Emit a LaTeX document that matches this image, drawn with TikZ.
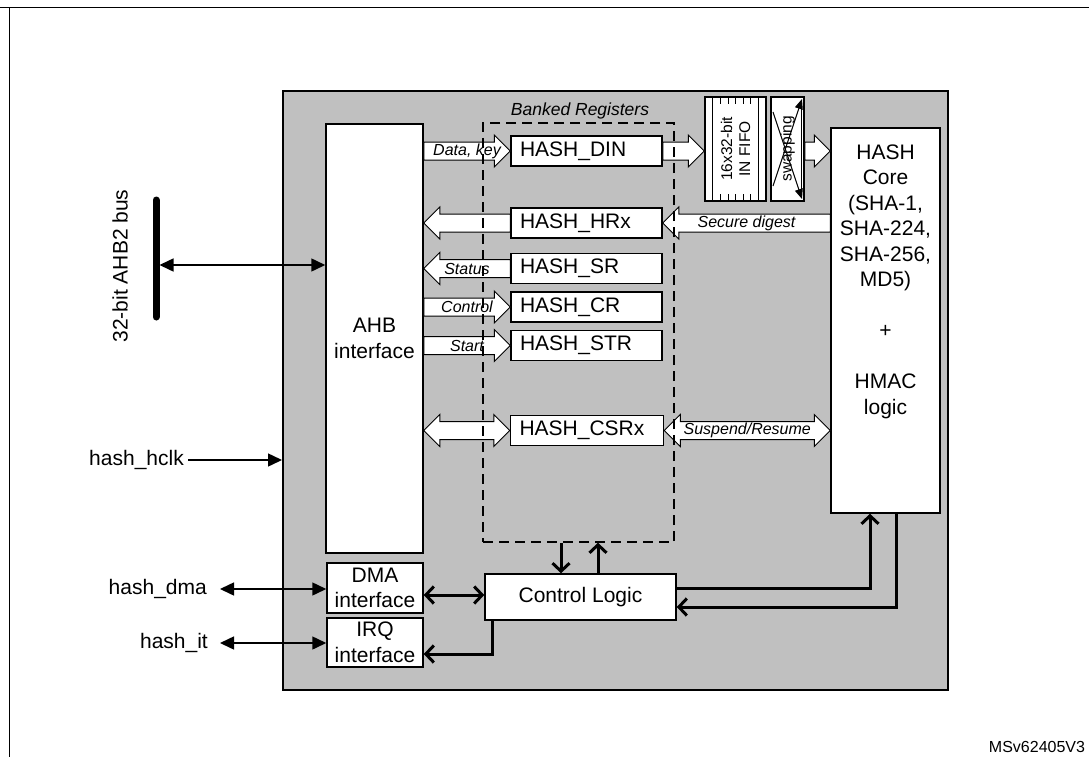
\documentclass[tikz,border=0pt]{standalone}
\usepackage{fontspec}
\setmainfont{Liberation Sans}
\usetikzlibrary{arrows.meta,calc}
\definecolor{hashgray}{RGB}{192,192,192}
\newcommand{\blkfont}{\fontsize{21}{25.5}\selectfont}
\newcommand{\lblfont}{\fontsize{16}{18}\selectfont\itshape}
\newcommand{\fifofont}{\fontsize{15.5}{18}\selectfont}
\tikzset{
  cbarb/.tip={Straight Barb[length=8pt,width=17pt]},
  ctri/.tip={Triangle[length=14pt,width=13pt]},
  blk/.style={draw,fill=white,line width=1.5pt,inner sep=0pt,align=center,font=\blkfont},
  reg/.style={blk,minimum height=30pt,text width=133pt,inner xsep=9pt,align=left},
  lbl/.style={font=\lblfont,inner sep=0pt},
  sig/.style={font=\blkfont,inner sep=0pt,anchor=east},
  thn/.style={line width=1.5pt},
  thk/.style={line width=3pt},
  fatr/.style={draw,fill=white,line width=1pt,
    to path={let \p1=(\tikztostart),\p2=(\tikztotarget),\n1={sign(\x2-\x1)} in
      (\x1,\y1+9pt) -- ({\x2-(\n1)*16pt},\y1+9pt) -- ({\x2-(\n1)*16pt},\y1+16pt) -- (\x2,\y1)
      -- ({\x2-(\n1)*16pt},\y1-16pt) -- ({\x2-(\n1)*16pt},\y1-9pt) -- (\x1,\y1-9pt) -- cycle}},
  fatd/.style={draw,fill=white,line width=1pt,
    to path={let \p1=(\tikztostart),\p2=(\tikztotarget),\n1={sign(\x2-\x1)} in
      (\x1,\y1) -- ({\x1+(\n1)*16pt},\y1+16pt) -- ({\x1+(\n1)*16pt},\y1+9pt)
      -- ({\x2-(\n1)*16pt},\y1+9pt) -- ({\x2-(\n1)*16pt},\y1+16pt) -- (\x2,\y1)
      -- ({\x2-(\n1)*16pt},\y1-16pt) -- ({\x2-(\n1)*16pt},\y1-9pt)
      -- ({\x1+(\n1)*16pt},\y1-9pt) -- ({\x1+(\n1)*16pt},\y1-16pt) -- cycle}}
}
\begin{document}
\begin{tikzpicture}[x=1pt,y=-1pt]
  \useasboundingbox (0,0) rectangle (1089,757);
  \draw[thn] (0,7.5) -- (1089,7.5);
  \draw[thn] (9.5,7.5) -- (9.5,757);
  \node[draw,fill=hashgray,line width=2pt,minimum width=665pt,minimum height=599pt] (hashblk) at (615.5,390.5) {};
  \node[blk,minimum width=97pt,minimum height=429pt] (ahb) at (374.5,338.5) {AHB\\interface};
  \node[blk,minimum width=96pt,minimum height=50pt] (dma) at (375,588) {DMA\\interface};
  \node[blk,minimum width=96pt,minimum height=49pt] (irq) at (375,642.5) {IRQ\\interface};
  \node[reg] (din) at (586.5,151) {HASH\_DIN};
  \node[reg] (hrx) at (586.5,223) {HASH\_HRx};
  \node[reg] (sr) at (586.5,268.5) {HASH\_SR};
  \node[reg] (cr) at (586.5,307) {HASH\_CR};
  \node[reg] (str) at (586.5,345.5) {HASH\_STR};
  \node[reg,text width=135pt] (csrx) at (587,430.5) {HASH\_CSRx};
  \node[blk,minimum width=61pt,minimum height=104pt] (fifo) at (735.5,149) {};
  \draw[line width=1pt] ([xshift=8pt]fifo.north west) -- ([xshift=8pt]fifo.south west);
  \draw[line width=1pt] ([xshift=-8pt]fifo.north east) -- ([xshift=-8pt]fifo.south east);
  \foreach \dx in {-15,-7.5,0,7.5,15} {
    \draw[line width=1pt] ([xshift=\dx pt]fifo.north) -- ++(0,8);
    \draw[line width=1pt] ([xshift=\dx pt]fifo.south) -- ++(0,-8);
  }
  \node[rotate=90,align=center,font=\fifofont,inner sep=0pt] (fifotxt) at (fifo.center) {16x32-bit\\IN FIFO};
  \node[blk,minimum width=33pt,minimum height=104pt] (swap) at (787.5,149) {};
  \draw[line width=1pt] (801,103) -- (801,195);
  \draw[line width=1pt,-{Triangle[length=10pt,width=8pt]}] (773,112) -- (802,199);
  \draw[line width=1pt,-{Triangle[length=10pt,width=8pt]}] (773,186) -- (802,99);
  \node[rotate=90,font=\fifofont,inner sep=0pt] (swaptxt) at (swap.center) {swapping};
  \node[blk,minimum width=109pt,minimum height=385pt] (core) at (885.5,320.5) {};
  \node[font=\blkfont,align=center,inner sep=0pt] (coretxt) at (885.5,281.5) {HASH\\Core\\(SHA-1,\\SHA-224,\\SHA-256,\\MD5)\\[25.5pt]+\\[25.5pt]HMAC\\logic};
  \draw[fatr] (ahb.east |- din) to (din.west);
  \path (ahb.east |- din) -- node[lbl] (lkey) {Data, key} (din.west);
  \draw[fatr] (hrx.west) to (ahb.east |- hrx);
  \draw[fatr] (sr.west) to (ahb.east |- sr);
  \path (sr.west) -- node[lbl] (lstatus) {Status} (ahb.east |- sr);
  \draw[fatr] (ahb.east |- cr) to (cr.west);
  \path (ahb.east |- cr) -- node[lbl] (lctrl) {Control} (cr.west);
  \draw[fatr] (ahb.east |- str) to (str.west);
  \path (ahb.east |- str) -- node[lbl] (lstart) {Start} (str.west);
  \draw[fatd] (ahb.east |- csrx) to (csrx.west);
  \draw[fatr] (din.east) to (fifo.west |- din);
  \draw[fatr] (swap.east |- din) to (core.west |- din);
  \draw[fatr] (core.west |- hrx) to (hrx.east);
  \path (core.west |- hrx) -- node[lbl] (ldigest) {Secure digest} (hrx.east);
  \draw[fatd] (csrx.east) to (core.west |- csrx);
  \path (csrx.east) -- node[lbl] (lsusp) {Suspend/Resume} (core.west |- csrx);
  \node[draw,line width=1.5pt,dash pattern=on 10pt off 6pt,minimum width=191pt,minimum height=419pt] (banked) at (578.5,332.5) {};
  \node[font=\fontsize{17.5}{20}\selectfont\itshape,inner sep=0pt] (banktitle) at (580,111) {Banked Registers};
  \node[blk,minimum width=191pt,minimum height=46pt] (ctrl) at (580.5,597) {Control Logic};
  \draw[thk,-cbarb] ([xshift=-17.5pt]banked.south) -- ([xshift=-17.5pt]banked.south |- ctrl.north);
  \draw[thk,-cbarb] ([xshift=19.5pt]banked.south |- ctrl.north) -- ([xshift=19.5pt]banked.south);
  \draw[thk,cbarb-cbarb] ([yshift=-7pt]dma.east) -- ([yshift=-7pt]dma.east -| ctrl.west);
  \draw[thk,-cbarb] ([xshift=-88.5pt]ctrl.south) |- ([yshift=-11.5pt]irq.east);
  \draw[thk,-cbarb] ([yshift=9pt]ctrl.east) -| ([xshift=-15.5pt]core.south);
  \draw[thk,-cbarb] ([xshift=10.5pt]core.south) |- ([yshift=-10pt]ctrl.east);
  \coordinate (bustop) at (156,200);
  \coordinate (busbot) at (156,317);
  \draw[line width=7pt,line cap=round] (bustop) -- (busbot);
  \coordinate (busmid) at (159.5,265);
  \draw[thn,ctri-ctri] (busmid) -- (ahb.west |- busmid);
  \node[font=\blkfont,rotate=90,inner sep=0pt] (buslbl) at (120,266) {32-bit AHB2 bus};
  \node[sig] (hclklbl) at (184,460) {hash\_hclk};
  \coordinate (hclkend) at (188,460);
  \draw[thn,-ctri] (hclkend) -- (hashblk.west |- hclkend);
  \node[sig] (dmalbl) at (207,589) {hash\_dma};
  \coordinate (dmaend) at (220,589);
  \draw[thn,ctri-ctri] (dmaend) -- (dma.west |- dmaend);
  \node[sig] (itlbl) at (208,643) {hash\_it};
  \coordinate (itend) at (220,643);
  \draw[thn,ctri-ctri] (itend) -- (irq.west |- itend);
  \node[font=\fontsize{16}{18}\selectfont,inner sep=0pt] (msv) at (1037,747) {MSv62405V3};
\end{tikzpicture}
\end{document}
